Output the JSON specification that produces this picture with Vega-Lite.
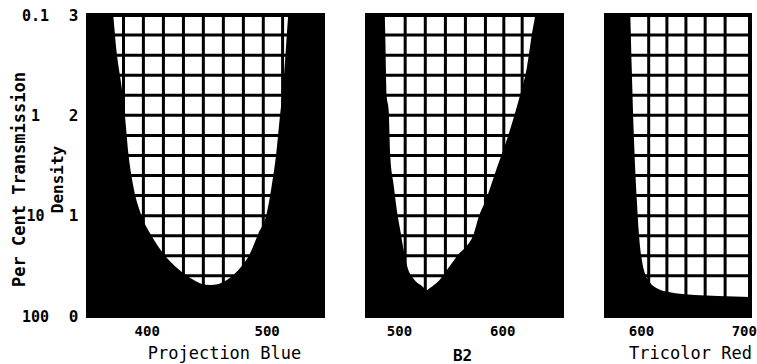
{
  "$schema": "https://vega.github.io/schema/vega-lite/v6.json",
  "background": "white",
  "padding": {"left": 8, "top": 5, "right": 0, "bottom": 0},
  "config": {
    "view": {"stroke": "black", "strokeWidth": 4, "fill": "white"},
    "font": "DejaVu Sans Mono",
    "axis": {
      "labelFont": "DejaVu Sans Mono",
      "titleFont": "DejaVu Sans Mono",
      "labelColor": "black",
      "titleColor": "black",
      "labelFontWeight": "bold",
      "domain": false,
      "ticks": false,
      "grid": false
    }
  },
  "datasets": {
    "blue": [
      {"wavelength": 351, "density": 3.4},
      {"wavelength": 368, "density": 3.4},
      {"wavelength": 372, "density": 3.0},
      {"wavelength": 375, "density": 2.62},
      {"wavelength": 378.6, "density": 2.32},
      {"wavelength": 382, "density": 1.97},
      {"wavelength": 384.7, "density": 1.62},
      {"wavelength": 389, "density": 1.28},
      {"wavelength": 395, "density": 1.02},
      {"wavelength": 404, "density": 0.8},
      {"wavelength": 414, "density": 0.62},
      {"wavelength": 425, "density": 0.48},
      {"wavelength": 436, "density": 0.38},
      {"wavelength": 446, "density": 0.32},
      {"wavelength": 453, "density": 0.31},
      {"wavelength": 460, "density": 0.32},
      {"wavelength": 469.5, "density": 0.38},
      {"wavelength": 478, "density": 0.48},
      {"wavelength": 486, "density": 0.62},
      {"wavelength": 493, "density": 0.82},
      {"wavelength": 500, "density": 1.02},
      {"wavelength": 504, "density": 1.28},
      {"wavelength": 508, "density": 1.62},
      {"wavelength": 511, "density": 1.98},
      {"wavelength": 514, "density": 2.32},
      {"wavelength": 516, "density": 2.65},
      {"wavelength": 518, "density": 3.0},
      {"wavelength": 522, "density": 3.4},
      {"wavelength": 547, "density": 3.4}
    ],
    "b2": [
      {"wavelength": 469, "density": 3.4},
      {"wavelength": 485, "density": 3.4},
      {"wavelength": 486.7, "density": 2.8},
      {"wavelength": 488, "density": 2.2},
      {"wavelength": 490, "density": 2.05},
      {"wavelength": 491.5, "density": 1.6},
      {"wavelength": 494.9, "density": 1.3},
      {"wavelength": 498, "density": 1.05},
      {"wavelength": 501.3, "density": 0.85},
      {"wavelength": 504.5, "density": 0.66},
      {"wavelength": 507.8, "density": 0.5},
      {"wavelength": 514.3, "density": 0.37},
      {"wavelength": 522.3, "density": 0.3},
      {"wavelength": 527.2, "density": 0.26},
      {"wavelength": 530, "density": 0.28},
      {"wavelength": 538.5, "density": 0.35},
      {"wavelength": 548, "density": 0.48},
      {"wavelength": 553, "density": 0.55},
      {"wavelength": 558, "density": 0.62},
      {"wavelength": 564, "density": 0.68},
      {"wavelength": 572.5, "density": 0.82},
      {"wavelength": 577, "density": 0.98},
      {"wavelength": 584, "density": 1.15},
      {"wavelength": 595, "density": 1.48},
      {"wavelength": 606.5, "density": 1.82},
      {"wavelength": 616, "density": 2.15},
      {"wavelength": 624, "density": 2.48},
      {"wavelength": 629, "density": 2.82},
      {"wavelength": 632, "density": 3.0},
      {"wavelength": 636, "density": 3.4},
      {"wavelength": 658, "density": 3.4}
    ],
    "red": [
      {"wavelength": 566, "density": 3.4},
      {"wavelength": 588, "density": 3.4},
      {"wavelength": 589.6, "density": 3.0},
      {"wavelength": 591, "density": 2.48},
      {"wavelength": 593, "density": 1.82},
      {"wavelength": 596, "density": 1.15},
      {"wavelength": 598, "density": 0.82},
      {"wavelength": 601, "density": 0.55},
      {"wavelength": 604, "density": 0.42},
      {"wavelength": 609, "density": 0.33},
      {"wavelength": 617, "density": 0.27},
      {"wavelength": 627, "density": 0.24},
      {"wavelength": 640, "density": 0.22},
      {"wavelength": 652, "density": 0.21},
      {"wavelength": 675, "density": 0.2},
      {"wavelength": 706, "density": 0.19}
    ],
    "hgrid": [
      {"density": 0.4}, {"density": 0.6}, {"density": 0.8}, {"density": 1.0},
      {"density": 1.2}, {"density": 1.4}, {"density": 1.6}, {"density": 1.8},
      {"density": 2.0}, {"density": 2.2}, {"density": 2.4}, {"density": 2.6},
      {"density": 2.8}
    ],
    "vblue": [
      {"wavelength": 380.6}, {"wavelength": 397.2}, {"wavelength": 413.9},
      {"wavelength": 430.6}, {"wavelength": 447.2}, {"wavelength": 463.9},
      {"wavelength": 480.6}, {"wavelength": 497.2}, {"wavelength": 513.3}
    ],
    "vb2": [
      {"wavelength": 506}, {"wavelength": 525.5}, {"wavelength": 545},
      {"wavelength": 564.4}, {"wavelength": 583.8}, {"wavelength": 601.6},
      {"wavelength": 619.4}
    ],
    "vred": [
      {"wavelength": 607.5}, {"wavelength": 625.2}, {"wavelength": 643.7},
      {"wavelength": 662.4}, {"wavelength": 681.8}
    ]
  },
  "spacing": 44,
  "bounds": "flush",
  "hconcat": [
    {
      "width": 235,
      "height": 301,
      "layer": [
        {
          "data": {"name": "hgrid"},
          "mark": {"type": "rule", "color": "black", "strokeWidth": 3},
          "encoding": {
            "y": {
              "field": "density", "type": "quantitative",
              "scale": {"domain": [0, 3], "nice": false},
              "axis": {
                "orient": "left",
                "values": [0, 1, 2, 3],
                "labelExpr": "datum.value == 0 ? '100' : datum.value == 1 ? '10' : datum.value == 2 ? '1' : '0.1'",
                "labelAlign": "center",
                "labelPadding": 53,
                "labelFontSize": 15,
                "title": "Per Cent Transmission",
                "titleX": -69,
                "titleY": 164,
                "titleAngle": -90,
                "titleAlign": "center",
                "titleBaseline": "middle",
                "titleFontSize": 17,
                "titleFontWeight": "bold"
              }
            }
          }
        },
        {
          "data": {"name": "vblue"},
          "mark": {"type": "rule", "color": "black", "strokeWidth": 3},
          "encoding": {
            "x": {
              "field": "wavelength", "type": "quantitative",
              "scale": {"domain": [351, 547], "nice": false, "zero": false},
              "axis": {
                "values": [400, 500], "format": "d", "labelFontSize": 14, "labelPadding": 8, "labelFlush": false,
                "title": "Projection Blue", "titleX": 136, "titleY": 42, "titleBaseline": "alphabetic",
                "titleFontSize": 17, "titleFontWeight": "normal"
              }
            }
          }
        },
        {
          "data": {"name": "blue"},
          "mark": {"type": "area", "color": "black", "clip": true, "interpolate": "monotone"},
          "encoding": {
            "x": {
              "field": "wavelength", "type": "quantitative",
              "scale": {"domain": [351, 547], "nice": false, "zero": false},
              "axis": {
                "values": [400, 500], "format": "d", "labelFontSize": 14, "labelPadding": 8, "labelFlush": false,
                "title": "Projection Blue", "titleX": 136, "titleY": 42, "titleBaseline": "alphabetic",
                "titleFontSize": 17, "titleFontWeight": "normal"
              }
            },
            "y": {
              "field": "density", "type": "quantitative",
              "scale": {"domain": [0, 3], "nice": false},
              "axis": {
                "orient": "left",
                "values": [0, 1, 2, 3],
                "format": "d",
                "labelFontSize": 16,
                "labelPadding": 10,
                "title": "Density",
                "titleX": -31,
                "titleY": 164,
                "titleAngle": -90,
                "titleAlign": "center",
                "titleBaseline": "middle",
                "titleFontSize": 16,
                "titleFontWeight": "bold"
              }
            }
          }
        }
      ],
      "resolve": {"axis": {"y": "independent"}}
    },
    {
      "width": 195,
      "height": 301,
      "layer": [
        {
          "data": {"name": "hgrid"},
          "mark": {"type": "rule", "color": "black", "strokeWidth": 3},
          "encoding": {
            "y": {"field": "density", "type": "quantitative", "scale": {"domain": [0, 3], "nice": false}, "axis": null}
          }
        },
        {
          "data": {"name": "vb2"},
          "mark": {"type": "rule", "color": "black", "strokeWidth": 3},
          "encoding": {
            "x": {
              "field": "wavelength", "type": "quantitative",
              "scale": {"domain": [469, 658], "nice": false, "zero": false},
              "axis": {
                "values": [500, 600], "format": "d", "labelFontSize": 14, "labelPadding": 8, "labelFlush": false,
                "title": "B2", "titleX": 95, "titleY": 44, "titleBaseline": "alphabetic",
                "titleFontSize": 16, "titleFontWeight": "bold"
              }
            }
          }
        },
        {
          "data": {"name": "b2"},
          "mark": {"type": "area", "color": "black", "clip": true, "interpolate": "monotone"},
          "encoding": {
            "x": {
              "field": "wavelength", "type": "quantitative",
              "scale": {"domain": [469, 658], "nice": false, "zero": false},
              "axis": {
                "values": [500, 600], "format": "d", "labelFontSize": 14, "labelPadding": 8, "labelFlush": false,
                "title": "B2", "titleX": 95, "titleY": 44, "titleBaseline": "alphabetic",
                "titleFontSize": 16, "titleFontWeight": "bold"
              }
            },
            "y": {"field": "density", "type": "quantitative", "scale": {"domain": [0, 3], "nice": false}, "axis": null}
          }
        }
      ]
    },
    {
      "width": 144,
      "height": 301,
      "layer": [
        {
          "data": {"name": "hgrid"},
          "mark": {"type": "rule", "color": "black", "strokeWidth": 3},
          "encoding": {
            "y": {"field": "density", "type": "quantitative", "scale": {"domain": [0, 3], "nice": false}, "axis": null}
          }
        },
        {
          "data": {"name": "vred"},
          "mark": {"type": "rule", "color": "black", "strokeWidth": 3},
          "encoding": {
            "x": {
              "field": "wavelength", "type": "quantitative",
              "scale": {"domain": [566, 706], "nice": false, "zero": false},
              "axis": {
                "values": [600, 700], "format": "d", "labelFontSize": 14, "labelPadding": 8, "labelFlush": false,
                "title": "Tricolor Red", "titleX": 84, "titleY": 42, "titleBaseline": "alphabetic",
                "titleFontSize": 17, "titleFontWeight": "normal"
              }
            }
          }
        },
        {
          "data": {"name": "red"},
          "mark": {"type": "area", "color": "black", "clip": true, "interpolate": "monotone"},
          "encoding": {
            "x": {
              "field": "wavelength", "type": "quantitative",
              "scale": {"domain": [566, 706], "nice": false, "zero": false},
              "axis": {
                "values": [600, 700], "format": "d", "labelFontSize": 14, "labelPadding": 8, "labelFlush": false,
                "title": "Tricolor Red", "titleX": 84, "titleY": 42, "titleBaseline": "alphabetic",
                "titleFontSize": 17, "titleFontWeight": "normal"
              }
            },
            "y": {"field": "density", "type": "quantitative", "scale": {"domain": [0, 3], "nice": false}, "axis": null}
          }
        }
      ]
    }
  ]
}
